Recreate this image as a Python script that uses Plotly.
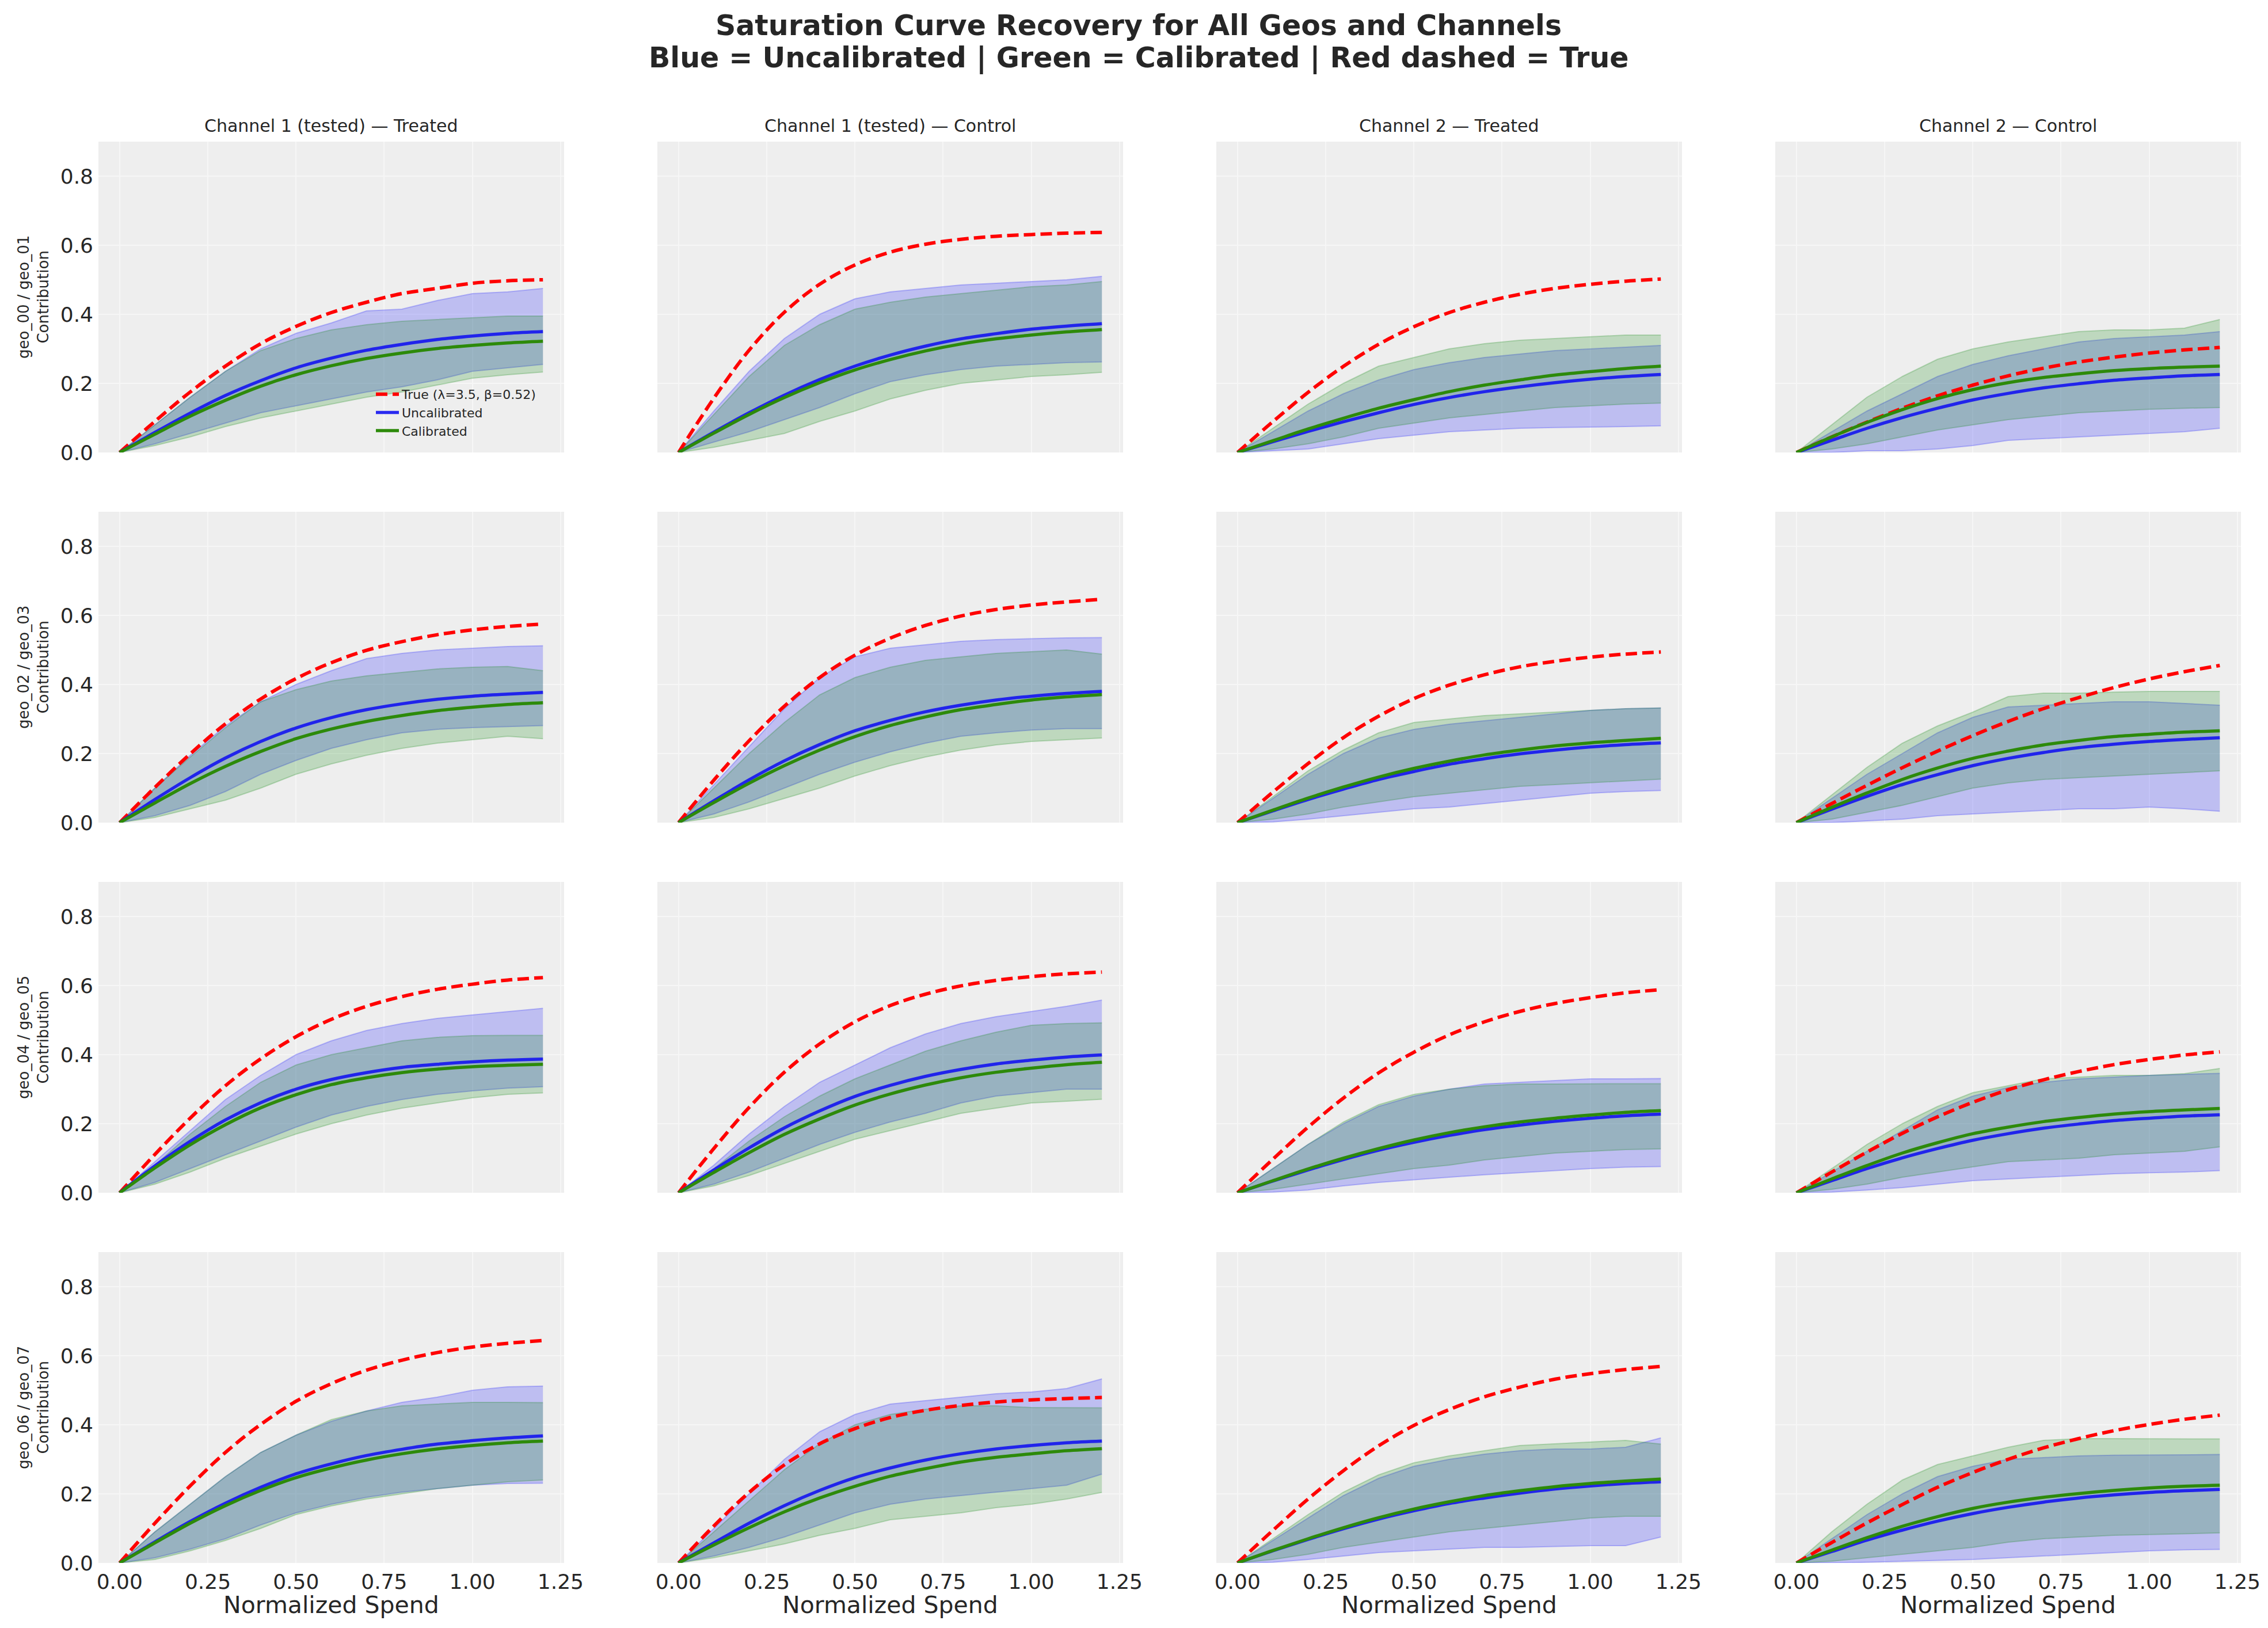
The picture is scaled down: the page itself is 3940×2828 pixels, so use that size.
import plotly.graph_objects as go
from plotly.subplots import make_subplots

# valeurs (x = dépense normalisée)
SPEND = [0.0, 0.1, 0.2, 0.3, 0.4, 0.5, 0.6, 0.7, 0.8, 0.9, 1.0, 1.1, 1.2]

COL_TITLES = ["Channel 1 (tested) — Treated", "Channel 1 (tested) — Control",
              "Channel 2 — Treated", "Channel 2 — Control"]
ROW_LABELS = ["geo_00 / geo_01", "geo_02 / geo_03", "geo_04 / geo_05", "geo_06 / geo_07"]
X_TICKS = [0.0, 0.25, 0.5, 0.75, 1.0, 1.25]
X_TICK_TEXT = ["0.00", "0.25", "0.50", "0.75", "1.00", "1.25"]
Y_TICKS = [0.0, 0.2, 0.4, 0.6, 0.8]
Y_TICK_TEXT = ["0.0", "0.2", "0.4", "0.6", "0.8"]
TRUE_LABEL = "True (λ=3.5, β=0.52)"

# courbe vraie (rouge pointillé), une liste par panneau, ligne par ligne
TRUE_CURVE = [
    [0, .09, .175, .25, .315, .365, .405, .435, .46, .475, .49, .497, .50],
    [0, .157, .296, .406, .487, .543, .580, .603, .617, .626, .631, .635, .637],
    [0, .089, .174, .249, .313, .364, .405, .435, .458, .475, .487, .496, .502],
    [0, .045, .088, .128, .164, .195, .222, .244, .262, .276, .288, .297, .304],
    [0, .102, .199, .286, .358, .417, .463, .499, .524, .544, .558, .568, .575],
    [0, .123, .237, .337, .420, .485, .534, .571, .598, .617, .630, .639, .647],
    [0, .088, .171, .246, .308, .359, .398, .428, .451, .467, .479, .488, .494],
    [0, .055, .108, .159, .207, .252, .293, .330, .362, .391, .416, .437, .455],
    [0, .111, .216, .310, .388, .452, .502, .540, .568, .589, .604, .616, .623],
    [0, .128, .247, .349, .431, .495, .542, .575, .599, .615, .626, .634, .639],
    [0, .097, .190, .274, .347, .407, .457, .495, .525, .548, .565, .579, .588],
    [0, .060, .118, .172, .220, .262, .298, .327, .351, .371, .386, .399, .408],
    [0, .115, .223, .320, .401, .468, .519, .558, .587, .609, .625, .636, .644],
    [0, .107, .204, .284, .345, .389, .421, .442, .456, .466, .472, .476, .479],
    [0, .094, .185, .267, .339, .398, .444, .481, .509, .532, .548, .560, .569],
    [0, .059, .116, .169, .219, .262, .300, .333, .360, .383, .401, .416, .428],
]

# non calibré (bleu) : moyenne, borne basse, borne haute
UNCAL_MEAN = [
    [0, .058, .114, .165, .208, .245, .273, .296, .313, .327, .337, .345, .35],
    [0, .059, .115, .166, .211, .250, .282, .308, .329, .344, .357, .366, .373],
    [0, .031, .061, .089, .115, .139, .159, .176, .190, .202, .212, .220, .226],
    [0, .035, .070, .101, .128, .152, .171, .187, .199, .209, .216, .222, .226],
    [0, .067, .130, .187, .235, .274, .304, .327, .344, .357, .366, .372, .377],
    [0, .063, .124, .179, .226, .266, .296, .321, .340, .355, .366, .374, .38],
    [0, .034, .067, .097, .125, .148, .169, .185, .199, .210, .219, .226, .231],
    [0, .039, .076, .110, .139, .165, .186, .203, .217, .227, .235, .241, .246],
    [0, .078, .149, .211, .261, .300, .328, .348, .363, .372, .379, .384, .387],
    [0, .066, .130, .188, .237, .279, .311, .337, .357, .373, .384, .393, .399],
    [0, .034, .066, .096, .123, .146, .166, .183, .196, .207, .216, .223, .228],
    [0, .035, .070, .101, .128, .152, .171, .187, .199, .209, .216, .222, .226],
    [0, .061, .120, .173, .219, .258, .287, .311, .329, .344, .354, .362, .368],
    [0, .058, .115, .166, .210, .247, .275, .298, .316, .330, .340, .348, .353],
    [0, .035, .068, .099, .127, .151, .172, .188, .202, .214, .223, .230, .235],
    [0, .033, .066, .095, .121, .143, .161, .176, .188, .197, .204, .209, .213],
]
UNCAL_LO = [
    [0, .025, .055, .085, .115, .135, .155, .175, .19, .21, .235, .245, .255],
    [0, .03, .06, .095, .13, .17, .205, .225, .24, .25, .255, .26, .262],
    [0, .005, .01, .025, .04, .05, .06, .065, .07, .072, .073, .075, .077],
    [0, 0, .005, .005, .01, .02, .035, .04, .045, .05, .055, .06, .07],
    [0, .02, .05, .09, .14, .18, .215, .24, .26, .27, .275, .278, .281],
    [0, .025, .06, .10, .14, .175, .205, .23, .25, .26, .268, .272, .272],
    [0, .002, .01, .02, .03, .04, .045, .055, .065, .075, .085, .09, .093],
    [0, 0, .005, .01, .02, .025, .03, .035, .04, .04, .045, .04, .033],
    [0, .03, .07, .11, .15, .19, .225, .25, .27, .285, .295, .303, .307],
    [0, .025, .06, .10, .14, .175, .205, .23, .26, .28, .29, .30, .30],
    [0, .002, .008, .02, .03, .038, .045, .052, .058, .065, .07, .074, .076],
    [0, .002, .008, .015, .025, .035, .04, .045, .05, .055, .058, .06, .064],
    [0, .015, .04, .07, .11, .145, .17, .19, .205, .215, .225, .23, .231],
    [0, .02, .045, .075, .11, .145, .17, .185, .195, .205, .215, .225, .257],
    [0, .002, .01, .02, .03, .035, .04, .045, .045, .048, .05, .05, .075],
    [0, 0, .002, .005, .008, .01, .015, .02, .025, .03, .035, .038, .039],
]
UNCAL_HI = [
    [0, .08, .16, .235, .30, .345, .375, .41, .415, .44, .46, .465, .475],
    [0, .12, .235, .33, .40, .445, .465, .475, .485, .49, .495, .50, .51],
    [0, .06, .12, .17, .21, .24, .26, .275, .285, .295, .30, .305, .31],
    [0, .06, .12, .17, .22, .255, .28, .30, .32, .33, .335, .34, .35],
    [0, .10, .195, .28, .35, .40, .44, .475, .49, .50, .505, .51, .512],
    [0, .11, .22, .33, .42, .48, .505, .515, .525, .53, .533, .535, .536],
    [0, .07, .14, .20, .245, .27, .285, .295, .305, .315, .325, .33, .332],
    [0, .07, .14, .20, .26, .305, .335, .34, .345, .35, .35, .345, .34],
    [0, .09, .18, .27, .34, .40, .44, .47, .49, .505, .515, .525, .534],
    [0, .08, .17, .25, .32, .37, .42, .46, .49, .51, .525, .54, .558],
    [0, .07, .14, .20, .25, .28, .30, .315, .32, .325, .33, .33, .331],
    [0, .06, .12, .18, .24, .28, .305, .32, .33, .335, .34, .343, .346],
    [0, .09, .17, .25, .32, .37, .41, .44, .465, .48, .50, .51, .512],
    [0, .10, .20, .30, .38, .43, .46, .47, .48, .49, .495, .505, .533],
    [0, .065, .13, .195, .245, .28, .30, .315, .325, .33, .33, .335, .362],
    [0, .07, .14, .20, .25, .28, .30, .305, .31, .312, .313, .314, .314],
]

# calibré (vert) : moyenne, borne basse, borne haute
CAL_MEAN = [
    [0, .053, .105, .151, .192, .225, .251, .272, .288, .301, .310, .317, .322],
    [0, .056, .110, .159, .202, .239, .269, .294, .314, .329, .340, .349, .356],
    [0, .034, .068, .099, .128, .153, .176, .195, .210, .224, .234, .243, .25],
    [0, .045, .087, .124, .156, .182, .202, .217, .228, .237, .243, .247, .25],
    [0, .057, .113, .163, .206, .243, .271, .293, .310, .324, .334, .342, .347],
    [0, .058, .114, .165, .210, .249, .281, .306, .327, .342, .355, .364, .371],
    [0, .036, .071, .103, .132, .157, .178, .196, .210, .222, .231, .238, .244],
    [0, .044, .086, .125, .158, .186, .207, .225, .238, .249, .256, .262, .266],
    [0, .072, .139, .197, .246, .284, .313, .333, .348, .358, .365, .369, .372],
    [0, .059, .116, .169, .214, .254, .286, .312, .333, .349, .361, .371, .378],
    [0, .035, .069, .100, .128, .153, .174, .191, .205, .216, .225, .233, .238],
    [0, .040, .079, .115, .145, .171, .190, .206, .218, .228, .235, .240, .244],
    [0, .058, .115, .166, .210, .247, .275, .298, .316, .330, .340, .348, .353],
    [0, .052, .102, .148, .188, .222, .251, .273, .292, .306, .316, .325, .331],
    [0, .036, .070, .102, .131, .156, .177, .195, .209, .221, .230, .237, .243],
    [0, .037, .073, .106, .134, .158, .176, .190, .201, .210, .217, .222, .225],
]
CAL_LO = [
    [0, .02, .045, .075, .10, .12, .14, .16, .175, .195, .215, .225, .233],
    [0, .015, .035, .055, .09, .12, .155, .18, .2, .21, .22, .225, .232],
    [0, .01, .025, .045, .07, .085, .10, .11, .12, .13, .135, .14, .143],
    [0, .01, .025, .045, .065, .08, .095, .105, .115, .12, .125, .128, .13],
    [0, .015, .04, .065, .10, .14, .17, .195, .215, .23, .24, .25, .243],
    [0, .015, .04, .07, .10, .135, .165, .19, .21, .225, .235, .24, .245],
    [0, .01, .025, .045, .06, .075, .085, .095, .105, .11, .115, .12, .126],
    [0, .01, .03, .05, .075, .10, .115, .125, .13, .135, .14, .145, .15],
    [0, .025, .06, .10, .135, .17, .20, .225, .245, .26, .275, .285, .289],
    [0, .02, .05, .085, .12, .155, .18, .205, .23, .245, .26, .265, .271],
    [0, .01, .025, .04, .055, .07, .08, .095, .105, .115, .12, .125, .127],
    [0, .01, .025, .045, .06, .075, .09, .095, .10, .11, .115, .12, .133],
    [0, .01, .035, .065, .10, .14, .165, .185, .20, .215, .225, .235, .24],
    [0, .015, .035, .055, .08, .10, .125, .135, .145, .16, .17, .185, .204],
    [0, .01, .025, .045, .06, .075, .09, .10, .11, .12, .13, .135, .135],
    [0, .005, .015, .025, .035, .045, .06, .07, .075, .08, .082, .085, .087],
]
CAL_HI = [
    [0, .08, .16, .235, .295, .33, .355, .37, .38, .385, .39, .395, .395],
    [0, .11, .22, .31, .37, .415, .435, .45, .46, .47, .48, .485, .495],
    [0, .07, .14, .20, .25, .275, .30, .315, .325, .33, .335, .34, .34],
    [0, .08, .16, .22, .27, .30, .32, .335, .35, .355, .355, .36, .385],
    [0, .10, .19, .275, .35, .385, .41, .425, .435, .445, .45, .452, .44],
    [0, .10, .20, .29, .37, .42, .45, .47, .48, .49, .495, .50, .488],
    [0, .075, .15, .21, .26, .29, .30, .31, .315, .32, .325, .33, .332],
    [0, .08, .16, .23, .28, .32, .365, .375, .375, .378, .38, .38, .38],
    [0, .08, .17, .25, .32, .37, .40, .42, .44, .45, .455, .456, .456],
    [0, .07, .15, .22, .28, .33, .37, .41, .44, .465, .485, .49, .492],
    [0, .07, .14, .205, .255, .285, .30, .31, .315, .315, .316, .316, .316],
    [0, .07, .14, .20, .25, .29, .31, .33, .335, .34, .34, .345, .36],
    [0, .09, .17, .25, .32, .37, .415, .44, .455, .46, .465, .465, .464],
    [0, .09, .18, .27, .345, .40, .43, .445, .455, .455, .45, .45, .449],
    [0, .07, .14, .205, .255, .29, .31, .325, .34, .345, .35, .355, .344],
    [0, .09, .17, .24, .285, .31, .335, .355, .36, .36, .36, .36, .359],
]

# mise en page (pixels)
W, H = 3940, 2828
LEFTS = [163, 1134, 2105, 3076]
TOPS = [238, 881, 1524, 2167]
PW, PH = 809, 540
FONT = "DejaVu Sans"
TXT = "#262626"

BLUE_FILL = "rgba(0,0,255,0.2)"
GREEN_FILL = "rgba(0,128,0,0.2)"
BLUE_LINE = "rgba(20,20,240,0.9)"
GREEN_LINE = "rgb(45,138,10)"
GRID = "#f6f6f6"


def px_x(p):
    return p / W


def px_y(p):
    return 1 - p / H


fig = make_subplots(rows=4, cols=4)

for i in range(16):
    r, c = divmod(i, 4)
    first = (i == 0)
    # bande non calibrée
    fig.add_trace(go.Scatter(x=SPEND, y=UNCAL_LO[i], mode="lines",
                             line=dict(color="rgba(0,0,255,0.22)", width=2),
                             showlegend=False, hoverinfo="skip"), row=r + 1, col=c + 1)
    fig.add_trace(go.Scatter(x=SPEND, y=UNCAL_HI[i], mode="lines", fill="tonexty",
                             fillcolor=BLUE_FILL,
                             line=dict(color="rgba(0,0,255,0.22)", width=2),
                             showlegend=False, hoverinfo="skip"), row=r + 1, col=c + 1)
    # bande calibrée
    fig.add_trace(go.Scatter(x=SPEND, y=CAL_LO[i], mode="lines",
                             line=dict(color="rgba(0,128,0,0.22)", width=2),
                             showlegend=False, hoverinfo="skip"), row=r + 1, col=c + 1)
    fig.add_trace(go.Scatter(x=SPEND, y=CAL_HI[i], mode="lines", fill="tonexty",
                             fillcolor=GREEN_FILL,
                             line=dict(color="rgba(0,128,0,0.22)", width=2),
                             showlegend=False, hoverinfo="skip"), row=r + 1, col=c + 1)
    # courbes
    fig.add_trace(go.Scatter(x=SPEND, y=TRUE_CURVE[i], mode="lines", name=TRUE_LABEL,
                             line=dict(color="#ff0000", width=6, dash="20px,9px", shape="spline"),
                             showlegend=first), row=r + 1, col=c + 1)
    fig.add_trace(go.Scatter(x=SPEND, y=UNCAL_MEAN[i], mode="lines", name="Uncalibrated",
                             line=dict(color=BLUE_LINE, width=5.5, shape="spline"),
                             showlegend=first), row=r + 1, col=c + 1)
    fig.add_trace(go.Scatter(x=SPEND, y=CAL_MEAN[i], mode="lines", name="Calibrated",
                             line=dict(color=GREEN_LINE, width=5.5, shape="spline"),
                             showlegend=first), row=r + 1, col=c + 1)

    n = "" if i == 0 else str(i + 1)
    x0, y0 = LEFTS[c], TOPS[r]
    fig.layout["xaxis" + n].update(
        domain=[px_x(x0), px_x(x0 + PW)], range=[-0.06, 1.26],
        tickvals=X_TICKS, ticktext=X_TICK_TEXT, showticklabels=(r == 3),
        showgrid=True, gridcolor=GRID, gridwidth=2, zeroline=False, showline=False,
        ticks="", tickfont=dict(size=36, color=TXT, family=FONT), ticklabelstandoff=8,
        automargin=False)
    fig.layout["yaxis" + n].update(
        domain=[px_y(y0 + PH), px_y(y0)], range=[0, 0.9],
        tickvals=Y_TICKS, ticktext=Y_TICK_TEXT, showticklabels=(c == 0),
        showgrid=True, gridcolor=GRID, gridwidth=2, zeroline=False, showline=False,
        ticks="", tickfont=dict(size=36, color=TXT, family=FONT), ticklabelstandoff=8,
        automargin=False)

annotations = []
# titre
annotations.append(dict(text="<b>Saturation Curve Recovery for All Geos and Channels</b>",
                        x=0.5, y=px_y(37), xref="paper", yref="paper", showarrow=False,
                        xanchor="center", yanchor="middle",
                        font=dict(size=49, color=TXT, family=FONT)))
annotations.append(dict(text="<b>Blue = Uncalibrated | Green = Calibrated | Red dashed = True</b>",
                        x=0.5, y=px_y(93), xref="paper", yref="paper", showarrow=False,
                        xanchor="center", yanchor="middle",
                        font=dict(size=49, color=TXT, family=FONT)))
# titres des colonnes
for c in range(4):
    annotations.append(dict(text=COL_TITLES[c], x=px_x(LEFTS[c] + PW / 2), y=px_y(TOPS[0] - 8),
                            xref="paper", yref="paper", showarrow=False,
                            xanchor="center", yanchor="bottom",
                            font=dict(size=30, color=TXT, family=FONT)))
    annotations.append(dict(text="Normalized Spend", x=px_x(LEFTS[c] + PW / 2), y=px_y(2780),
                            xref="paper", yref="paper", showarrow=False,
                            xanchor="center", yanchor="middle",
                            font=dict(size=41, color=TXT, family=FONT)))
# libellés des lignes
for r in range(4):
    annotations.append(dict(text=ROW_LABELS[r] + "<br>Contribution", x=px_x(50),
                            y=px_y(TOPS[r] + PH / 2), xref="paper", yref="paper",
                            showarrow=False, textangle=-90, xanchor="center", yanchor="middle",
                            font=dict(size=26, color=TXT, family=FONT)))

fig.update_layout(
    width=W, height=H, autosize=False,
    margin=dict(l=0, r=0, t=0, b=0),
    paper_bgcolor="white", plot_bgcolor="#eeeeee",
    font=dict(family=FONT, color=TXT),
    annotations=annotations,
    legend=dict(x=px_x(640), y=px_y(656), xanchor="left", yanchor="top",
                bgcolor="rgba(0,0,0,0)", font=dict(size=22, color=TXT, family=FONT),
                itemwidth=40, tracegroupgap=0, traceorder="normal"),
)

fig.write_html("out.html")
